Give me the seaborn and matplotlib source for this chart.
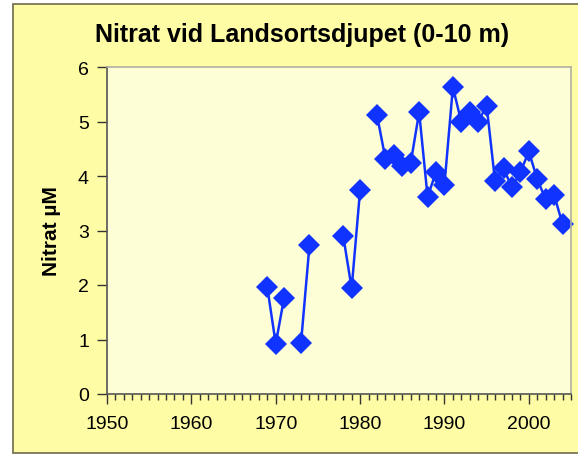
import seaborn as sns
import matplotlib.pyplot as plt
import pandas as pd
from matplotlib.patches import Rectangle

years = [1969, 1970, 1971, 1973, 1974, 1978, 1979, 1980,
         1982, 1983, 1984, 1985, 1986, 1987, 1988, 1989, 1990,
         1991, 1992, 1993, 1994, 1995, 1996, 1997, 1998, 1999,
         2000, 2001, 2002, 2003, 2004]
nitrat = [1.96, 0.92, 1.77, 0.94, 2.73, 2.90, 1.94, 3.74,
          5.12, 4.32, 4.38, 4.18, 4.24, 5.17, 3.62, 4.07, 3.84,
          5.63, 4.99, 5.18, 5.00, 5.29, 3.90, 4.14, 3.79, 4.07,
          4.45, 3.94, 3.57, 3.65, 3.12]
xticks = [1950, 1960, 1970, 1980, 1990, 2000]

df = pd.DataFrame({"year": years, "nitrat": nitrat})
# missing years break the line
df["seg"] = (df["year"].diff() > 1).cumsum()

sns.set_style("white")
plt.rcParams["font.family"] = ["Liberation Sans", "DejaVu Sans"]
plt.rcParams["text.color"] = "black"
plt.rcParams["xtick.labelcolor"] = "black"
plt.rcParams["ytick.labelcolor"] = "black"

fig = plt.figure(figsize=(5.78, 4.56), dpi=100, facecolor="white")
fig.patches.append(Rectangle((13 / 578, 2 / 456), 1.0, 449 / 456,
                             transform=fig.transFigure, facecolor="#FFFCA6",
                             edgecolor="#6E6A4A", linewidth=1.2, zorder=-1))

ax = fig.add_axes([107 / 578, 61 / 456, 464 / 578, 327 / 456])
ax.set_zorder(1)
ax.set_facecolor("#FEFED6")

sns.lineplot(data=df, x="year", y="nitrat", units="seg", estimator=None,
             color="#1133FF", marker="D", markersize=11, markeredgewidth=0,
             linewidth=1.8, ax=ax, clip_on=False)

ax.set_xlim(1950, 2005)
ax.set_ylim(0, 6)
ax.set_xticks(xticks)
ax.set_xticks(range(1950, 2006), minor=True)
ax.set_yticks(range(0, 7))
ax.tick_params(axis="both", which="major", labelsize=14, direction="out",
               length=7, width=1, color="#333333", labelcolor="black")
ax.tick_params(axis="x", which="major", pad=8)
ax.tick_params(axis="y", which="major", pad=6)
ax.tick_params(axis="x", which="minor", direction="out", length=4,
               width=1, color="#333333", bottom=True)
ax.tick_params(axis="x", bottom=True)
ax.tick_params(axis="y", left=True)

for side in ["left", "bottom"]:
    ax.spines[side].set_color("#555555")
    ax.spines[side].set_linewidth(1.2)
for side in ["top", "right"]:
    ax.spines[side].set_color("#B0B0A0")
    ax.spines[side].set_linewidth(1.2)

ax.set_xlabel("")
ax.set_ylabel("Nitrat µM", fontsize=15, fontweight="bold", labelpad=12,
              color="black")
fig.text(302 / 578, 1 - 35 / 456, "Nitrat vid Landsortsdjupet (0-10 m)",
         ha="center", va="center", fontsize=18, fontweight="bold",
         color="black")

fig.savefig("out.png", dpi=100, facecolor=fig.get_facecolor())
